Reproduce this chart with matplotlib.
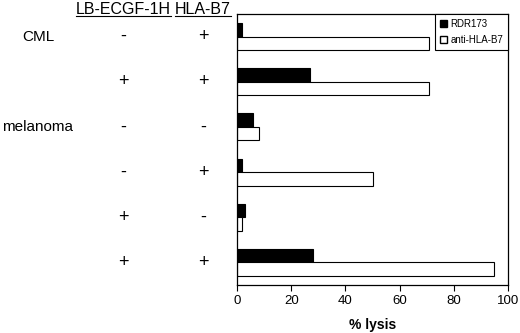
import matplotlib
matplotlib.use("Agg")
import matplotlib.pyplot as plt
from matplotlib.patches import Patch
from matplotlib.lines import Line2D
from matplotlib.transforms import blended_transform_factory

plt.rcParams['font.family'] = ['Liberation Sans', 'DejaVu Sans']

rdr173 = [2, 27, 6, 2, 3, 28]
anti_hla_b7 = [71, 71, 8, 50, 2, 95]
lb_ecgf = ['-', '+', '-', '-', '+', '+']
hla_b7 = ['+', '+', '-', '+', '-', '+']
row_labels = {0: 'CML', 2: 'melanoma'}
series_names = ['RDR173', 'anti-HLA-B7']
xticks = [0, 20, 40, 60, 80, 100]

fig = plt.figure(figsize=(5.2, 3.33), dpi=100)
ax = fig.add_axes([237/520, 1-285/333, (508-237)/520, (285-14)/333])

h = 0.3
ys = list(range(len(rdr173)))
ax.barh([y - h/2 for y in ys], rdr173, height=h, color='black', edgecolor='black', linewidth=0.8)
ax.barh([y + h/2 for y in ys], anti_hla_b7, height=h, color='white', edgecolor='black', linewidth=0.8)

ax.set_ylim(len(ys) - 0.5, -0.5)
ax.set_xlim(0, 100)
ax.set_xticks(xticks)
ax.set_yticks([])
ax.tick_params(axis='x', direction='out', length=4, width=0.8, labelsize=9.5, pad=3)
for s in ax.spines.values():
    s.set_linewidth(0.9)
ax.set_xlabel('% lysis', fontsize=10, fontweight='bold', labelpad=8)

leg = ax.legend(handles=[Patch(facecolor='black', edgecolor='black', label=series_names[0]),
                         Patch(facecolor='white', edgecolor='black', label=series_names[1])],
                loc='upper right', bbox_to_anchor=(1, 1), borderaxespad=0, fontsize=7,
                handlelength=0.75, handleheight=0.75, handletextpad=0.3, fancybox=False,
                framealpha=1, edgecolor='black', borderpad=0.5, labelspacing=0.6)
leg.get_frame().set_linewidth(0.8)

tr = blended_transform_factory(fig.transFigure, ax.transData)
for y in ys:
    fig.text(123/520, y, lb_ecgf[y], transform=tr, ha='center', va='center', fontsize=13)
    fig.text(203/520, y, hla_b7[y], transform=tr, ha='center', va='center', fontsize=13)
for y, lab in row_labels.items():
    fig.text(38/520, y, lab, transform=tr, ha='center', va='center', fontsize=11)

headers = []
headers.append(fig.text(123.5/520, 1-9/333, 'LB-ECGF-1H', ha='center', va='center', fontsize=11.5))
headers.append(fig.text(203/520, 1-9/333, 'HLA-B7', ha='center', va='center', fontsize=11.5))
fig.canvas.draw()
r = fig.canvas.get_renderer()
for t in headers:
    bb = t.get_window_extent(r).transformed(fig.transFigure.inverted())
    fig.add_artist(Line2D([bb.x0, bb.x1], [1-16/333, 1-16/333], transform=fig.transFigure,
                          color='black', linewidth=0.8))

fig.savefig('out.png', dpi=100)
